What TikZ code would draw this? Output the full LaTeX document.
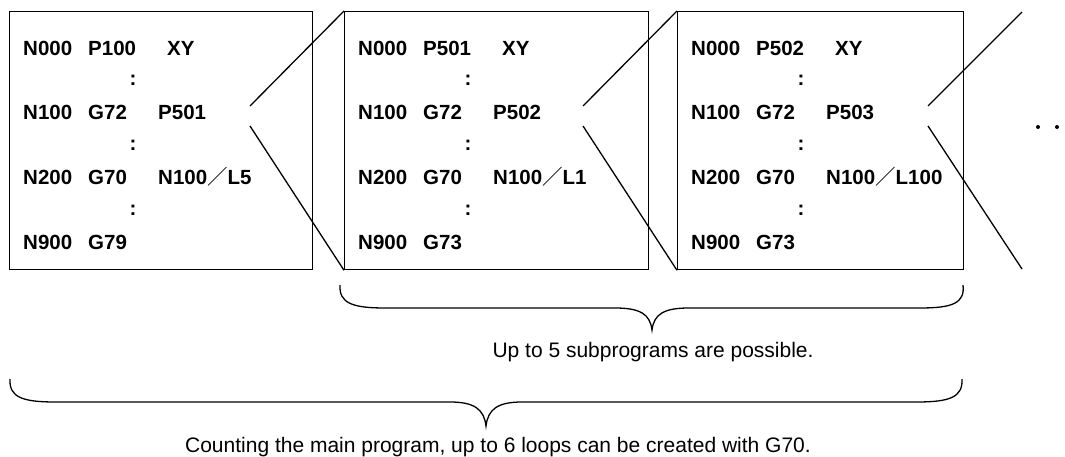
\documentclass[tikz,border=0pt]{standalone}
\usepackage{fontspec}
\setmainfont{Liberation Sans}
\newfontfamily\cjkfont{Noto Sans CJK JP}
\newcommand\fwslash{{\cjkfont\mdseries ／}}
\newcommand\myprog[7]{%
  % #1 name, #2 left x, #3 width, #4 P in row1, #5 P in row2, #6 L value, #7 G in row4
  \node[progbox, minimum width=#3pt] (#1) at (#2,11) {};
  \node[code] (#1-n0) at (#2+14,56) {N000};
  \node[code] (#1-p0) at (#2+79,56) {#4};
  \node[code] (#1-xy) at (#2+158,56) {XY};
  \node[colon] (#1-c1) at (#2+124,86) {:};
  \node[code] (#1-n1) at (#2+14,120) {N100};
  \node[code] (#1-g1) at (#2+79,120) {G72};
  \node[code] (#1-p1) at (#2+149,120) {#5};
  \node[colon] (#1-c2) at (#2+124,151) {:};
  \node[code] (#1-n2) at (#2+14,185) {N200};
  \node[code] (#1-g2) at (#2+79,185) {G70};
  \node[code] (#1-l2) at (#2+149,185) {N100\fwslash #6};
  \node[colon] (#1-c3) at (#2+124,215) {:};
  \node[code] (#1-n3) at (#2+14,249) {N900};
  \node[code] (#1-g3) at (#2+79,249) {#7};
}
\begin{document}
\begin{tikzpicture}[x=1pt,y=-1pt,
  progbox/.style={draw, line width=1.3pt, minimum height=258pt, anchor=north west, inner sep=0pt},
  code/.style={anchor=base west, inner sep=0pt, font=\fontsize{20.5}{24}\selectfont\bfseries},
  colon/.style={anchor=base, inner sep=0pt, font=\fontsize{20.5}{24}\selectfont\bfseries},
  link/.style={line width=1.3pt},
  bracecurve/.style={line width=1.3pt},
  note/.style={anchor=base, inner sep=0pt, font=\fontsize{21}{24}\selectfont}]
\useasboundingbox (0,0) rectangle (1065,457);

\myprog{b1}{9}{303}{P100}{P501}{L5}{G79}
\myprog{b2}{344}{304}{P501}{P502}{L1}{G73}
\myprog{b3}{677}{286}{P502}{P503}{L100}{G73}

% zoom connectors
\coordinate (b1u) at (250,106);
\coordinate (b1d) at (250,126);
\coordinate (b2u) at (583,106);
\coordinate (b2d) at (583,126);
\coordinate (b3u) at (928,106);
\coordinate (b3d) at (928,126);
\coordinate (e3u) at (1022,12);
\coordinate (e3d) at (1022,269);
\draw[link] (b1u) -- (b2.north west);
\draw[link] (b1d) -- (b2.south west);
\draw[link] (b2u) -- (b3.north west);
\draw[link] (b2d) -- (b3.south west);
\draw[link] (b3u) -- (e3u);
\draw[link] (b3d) -- (e3d);

% continuation dots
\fill (1038,127) circle (2pt);
\fill (1057,127) circle (2pt);

% small brace
\draw[bracecurve] (340,285) .. controls (339,303) and (352,308) .. (385,308)
  -- (615,308) .. controls (640,308) and (650,314) .. (652,330)
  .. controls (654,314) and (664,308) .. (689,308)
  -- (920,308) .. controls (953,308) and (965,303) .. (963,285);
\node[note] (t1) at (653,357) {Up to 5 subprograms are possible.};

% large brace
\draw[bracecurve] (10,379) .. controls (9,397) and (22,402) .. (55,402)
  -- (450,402) .. controls (474,402) and (484,409) .. (486,426)
  .. controls (488,409) and (498,402) .. (522,402)
  -- (917,402) .. controls (950,402) and (963,397) .. (962,379);
\node[note] (t2) at (498,452) {Counting the main program, up to 6 loops can be created with G70.};
\end{tikzpicture}
\end{document}
